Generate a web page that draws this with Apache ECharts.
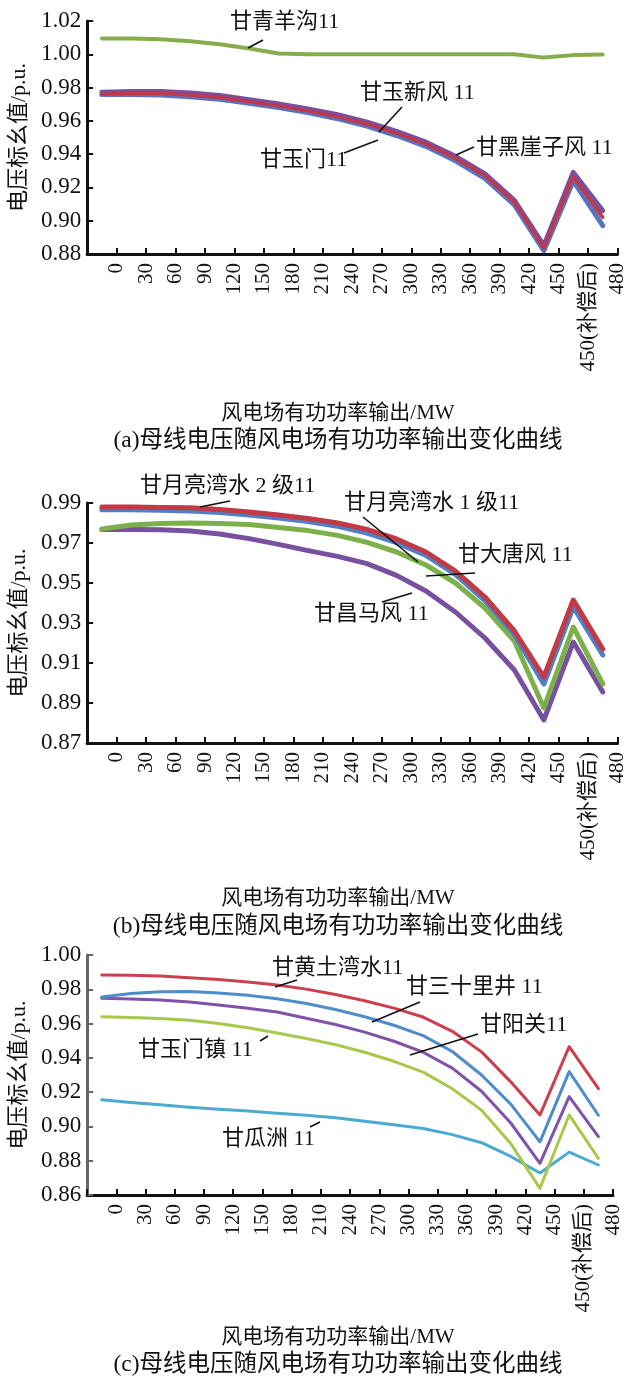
<!DOCTYPE html>
<html><head><meta charset="utf-8">
<script src="https://cdn.jsdelivr.net/npm/echarts@6/dist/echarts.min.js"></script>
<style>html,body{margin:0;padding:0;background:#fff}#c{width:628px;height:1390px}</style>
</head><body><div id="c"></div>
<script>
// x tick labels (shared)
const xLabels = ['0','30','60','90','120','150','180','210','240','270','300','330','360','390','420','450','450(补偿后)','480'];

// Panel (a)
const aNamesY = '电压标幺值/p.u.';
const aQingyanggou = [1.0095,1.0095,1.009,1.0078,1.006,1.0035,1.0005,1.000,1.000,1.000,1.000,1.000,1.000,1.000,1.000,0.998,0.9995,0.9998];
const aYuxinfeng  = [0.9772,0.9776,0.9776,0.9767,0.9752,0.9727,0.9702,0.9672,0.9637,0.9592,0.9537,0.9472,0.9387,0.9282,0.9122,0.885,0.929,0.906];
const aHeiyazifeng= [0.9762,0.9765,0.9765,0.9755,0.974,0.9715,0.969,0.966,0.9625,0.958,0.9525,0.946,0.9375,0.927,0.911,0.8835,0.9265,0.902];
const aYumen      = [0.9758,0.9758,0.9756,0.9745,0.973,0.9705,0.968,0.965,0.9613,0.9568,0.9512,0.9447,0.936,0.9255,0.9095,0.882,0.924,0.897];

// Panel (b)
const bYueliang2 = [0.988,0.988,0.9878,0.9876,0.9868,0.9855,0.984,0.9823,0.980,0.9768,0.972,0.9655,0.956,0.943,0.926,0.903,0.9415,0.917];
const bYueliang1 = [0.9866,0.9866,0.9864,0.986,0.9853,0.984,0.9825,0.9807,0.9783,0.975,0.9702,0.9638,0.9543,0.9412,0.9243,0.8995,0.938,0.914];
const bDatang    = [0.977,0.979,0.9797,0.98,0.9797,0.9792,0.9778,0.9762,0.9738,0.9703,0.9655,0.959,0.950,0.9375,0.921,0.8875,0.928,0.8995];
const bChangma   = [0.9767,0.9767,0.9766,0.976,0.9745,0.9722,0.9693,0.9662,0.9633,0.9597,0.9538,0.946,0.9355,0.9225,0.9065,0.8815,0.9205,0.8955];

// Panel (c)
const cHuangtu   = [0.9883,0.9882,0.9878,0.9868,0.9857,0.9843,0.9825,0.9801,0.977,0.9733,0.969,0.9638,0.9555,0.9435,0.926,0.9067,0.9465,0.922];
const cSanshili  = [0.9755,0.9775,0.9785,0.9787,0.9778,0.9765,0.9745,0.9717,0.9682,0.964,0.959,0.953,0.9437,0.930,0.913,0.891,0.932,0.9065];
const cYangguan  = [0.9748,0.9743,0.9738,0.9726,0.9708,0.9689,0.9667,0.9631,0.9595,0.955,0.9497,0.9433,0.934,0.9205,0.902,0.8785,0.9174,0.894];
const cYumenzhen = [0.964,0.9636,0.963,0.962,0.9601,0.9576,0.9545,0.9513,0.9477,0.9433,0.938,0.9317,0.922,0.9095,0.89,0.8639,0.9067,0.8814];
const cGuazhou   = [0.9155,0.914,0.9126,0.9112,0.91,0.909,0.9077,0.9065,0.905,0.903,0.901,0.8988,0.8952,0.8905,0.8825,0.8728,0.885,0.8775];

// y axis ranges
const yRanges = [[0.88,1.02],[0.87,0.99],[0.86,1.00]];

const FONT = "'Liberation Serif','Noto Sans CJK SC',serif";
const grids = [
  {left:86, top:21, width:533, height:233},
  {left:86, top:503, width:533, height:240},
  {left:83, top:955, width:530, height:240}
];
const axisColors = ['#111','#111','#666'];

const xAxes = grids.map((g,i)=>({
  type:'value', gridIndex:i, min:0, max:18, interval:1,
  axisLine:{show:true, onZero:false, lineStyle:{color:'#111', width:3}},
  axisTick:{show:true, inside:true, length:6, lineStyle:{color:'#111', width:2}},
  splitLine:{show:false},
  axisLabel:{rotate:90, margin:9, fontSize:21, fontFamily:FONT, color:'#111',
    formatter:(v)=> (v>=1 && v<=18) ? xLabels[Math.round(v)-1] : ''}
}));
const yAxes = grids.map((g,i)=>({
  type:'value', gridIndex:i, min:yRanges[i][0], max:yRanges[i][1], interval:0.02,
  name:aNamesY, nameLocation:'middle', nameGap:53, nameRotate:90,
  nameTextStyle:{fontSize:22, fontFamily:FONT, color:'#111'},
  axisLine:{show:true, lineStyle:{color:axisColors[i], width:3}},
  axisTick:{show:true, inside:true, length:6, lineStyle:{color:axisColors[i], width:2}},
  splitLine:{show:false},
  axisLabel:{margin:6, fontSize:23, fontFamily:FONT, color:'#111', formatter:(v)=>v.toFixed(2)}
}));

function ser(name, arr, gi, color, w){
  return {name, type:'line', xAxisIndex:gi, yAxisIndex:gi, symbol:'none', smooth:false,
    lineStyle:{color, width:w, join:'round', cap:'round'}, itemStyle:{color}, data:arr.map((v,k)=>[k+0.5, v])};
}
const series = [
  ser('甘青羊沟11', aQingyanggou, 0, '#86ad4c', 4),
  ser('甘玉门11', aYumen, 0, '#5a72bf', 5),
  ser('甘玉新风11', aYuxinfeng, 0, '#7a4f9f', 5),
  ser('甘黑崖子风11', aHeiyazifeng, 0, '#c0394a', 3.5),
  ser('甘昌马风11', bChangma, 1, '#7850a0', 5),
  ser('甘大唐风11', bDatang, 1, '#7cb04a', 5),
  ser('甘月亮湾水1级11', bYueliang1, 1, '#4f7fc4', 5),
  ser('甘月亮湾水2级11', bYueliang2, 1, '#c23a45', 5),
  ser('甘瓜洲11', cGuazhou, 2, '#4aaad2', 3),
  ser('甘玉门镇11', cYumenzhen, 2, '#a8c84c', 3),
  ser('甘阳关11', cYangguan, 2, '#8052a8', 3),
  ser('甘三十里井11', cSanshili, 2, '#4e8cca', 3),
  ser('甘黄土湾水11', cHuangtu, 2, '#cc3f4e', 3)
];

function txt(t, x, y, size, align){
  return {type:'text', x, y, style:{text:t, font:size+'px '+FONT, fill:'#111',
    textAlign:align||'left', textVerticalAlign:'middle', align:align||'left', verticalAlign:'middle'}, z:100};
}
function ln(x1,y1,x2,y2){
  return {type:'line', shape:{x1,y1,x2,y2}, style:{stroke:'#111', lineWidth:1.6}, z:100};
}
const graphics = [
  // (a)
  txt('甘青羊沟11', 230, 22, 22), ln(248,48,263,40),
  txt('甘玉新风 11', 360, 93, 22), ln(379,132,402,107),
  txt('甘玉门11', 260, 160, 22), ln(344,153,378,140),
  txt('甘黑崖子风 11', 476, 148, 22), ln(456,155,474,147),
  txt('风电场有功功率输出/MW', 338, 413, 21, 'center'),
  txt('(a)母线电压随风电场有功功率输出变化曲线', 338, 441, 23.5, 'center'),
  // (b)
  txt('甘月亮湾水 2 级11', 140, 486, 22), ln(200,507,230,501),
  txt('甘月亮湾水 1 级11', 344, 503, 22), ln(363,517,418,562),
  txt('甘大唐风 11', 458, 555, 22), ln(426,576,475,573),
  txt('甘昌马风 11', 314, 614, 22), ln(382,602,412,593),
  txt('风电场有功功率输出/MW', 338, 898, 21, 'center'),
  txt('(b)母线电压随风电场有功功率输出变化曲线', 338, 927, 23.5, 'center'),
  // (c)
  txt('甘黄土湾水11', 272, 968, 22), ln(275,987,297,980),
  txt('甘三十里井 11', 406, 987, 22), ln(372,1022,420,1002),
  txt('甘阳关11', 480, 1025, 22), ln(410,1055,478,1034),
  txt('甘玉门镇 11', 138, 1050, 22), ln(260,1041,268,1036),
  txt('甘瓜洲 11', 222, 1139, 22), ln(310,1127,320,1122),
  txt('风电场有功功率输出/MW', 338, 1337, 21, 'center'),
  txt('(c)母线电压随风电场有功功率输出变化曲线', 338, 1365, 23.5, 'center')
];

const chart = echarts.init(document.getElementById('c'), null, {renderer:'canvas'});
chart.setOption({
  backgroundColor:'#fff', animation:false,
  grid:grids, xAxis:xAxes, yAxis:yAxes, series, graphic:graphics
});
</script></body></html>
